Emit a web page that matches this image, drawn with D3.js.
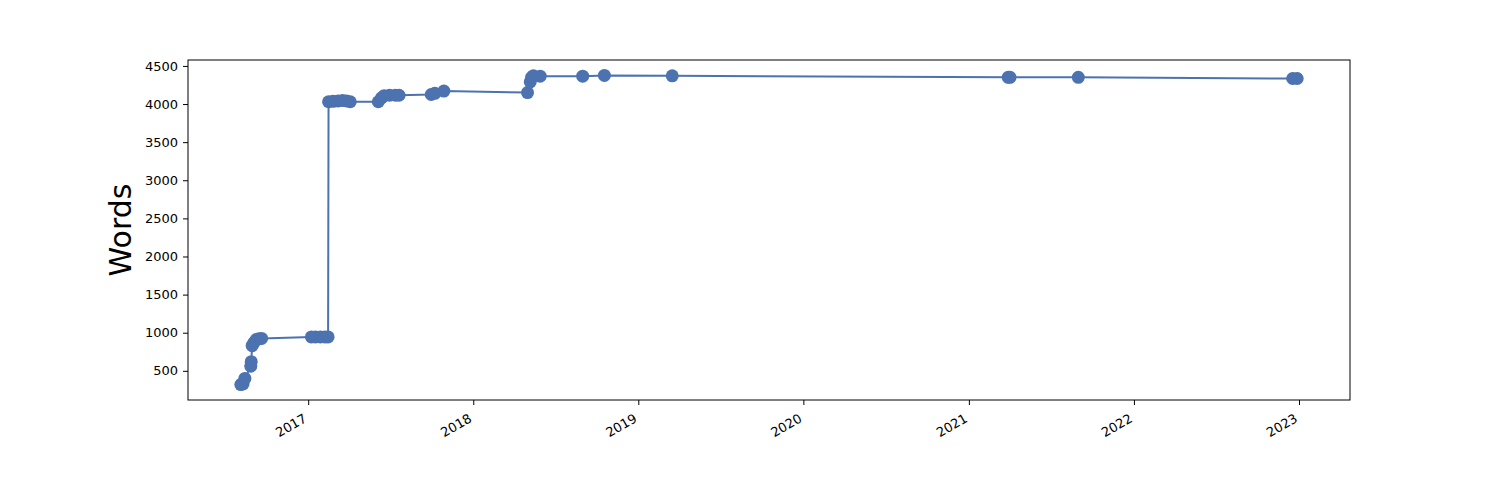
<!DOCTYPE html>
<html lang="en">
<head>
  <meta charset="UTF-8">
  <title>Words</title>
  <script src="https://cdn.jsdelivr.net/npm/d3@7/dist/d3.min.js"></script>
  <style>
    body { margin: 0; background: #fff; }
    text { font-family: "DejaVu Sans", sans-serif; }
  </style>
</head>
<body>
  <svg width="1500" height="500" id="main"></svg>
<script>
  // dates of each revision and the word count at that date
  const dates = [
    '2016-08-05', '2016-08-10', '2016-08-14', '2016-08-27', '2016-08-28',
    '2016-08-30', '2016-09-03', '2016-09-08', '2016-09-14', '2016-09-20',
    '2017-01-08', '2017-01-17', '2017-01-28', '2017-02-07', '2017-02-14',
    '2017-02-15', '2017-02-25', '2017-03-08', '2017-03-18', '2017-03-27',
    '2017-04-04', '2017-06-05', '2017-06-12', '2017-06-18', '2017-06-30',
    '2017-07-13', '2017-07-21', '2017-09-30', '2017-10-08', '2017-10-28',
    '2018-05-01', '2018-05-07', '2018-05-10', '2018-05-14', '2018-05-29',
    '2018-08-31', '2018-10-18', '2019-03-17', '2021-03-29', '2021-04-02',
    '2021-08-31', '2022-12-18', '2022-12-28'
  ];
  const words = [
    320, 330, 400, 560, 620,
    830, 870, 910, 920, 925,
    945, 945, 945, 945, 945,
    4030, 4035, 4040, 4045, 4040,
    4030, 4030, 4080, 4110, 4115,
    4115, 4115, 4125, 4140, 4170,
    4150, 4290, 4350, 4370, 4365,
    4365, 4375, 4370, 4350, 4350,
    4350, 4335, 4335
  ];
  const yTicks = [500, 1000, 1500, 2000, 2500, 3000, 3500, 4000, 4500];
  const xTickYears = [2017, 2018, 2019, 2020, 2021, 2022, 2023];
  const yLabel = 'Words';

  const svg = d3.select('#main');
  const m = { left: 188, right: 1350, top: 60, bottom: 400 };
  const color = '#4c72b0';

  const parse = d3.timeParse('%Y-%m-%d');
  const data = dates.map((d, i) => ({ date: parse(d), value: words[i] }));

  // matplotlib style 5% margins
  const [x0, x1] = d3.extent(data, d => +d.date);
  const xPad = (x1 - x0) * 0.05;
  const [y0, y1] = d3.extent(data, d => d.value);
  const yPad = (y1 - y0) * 0.05;

  const x = d3.scaleTime()
    .domain([new Date(x0 - xPad), new Date(x1 + xPad)])
    .range([m.left, m.right]);
  const y = d3.scaleLinear()
    .domain([y0 - yPad, y1 + yPad])
    .range([m.bottom, m.top]);

  // axes
  const xAxis = svg.append('g')
    .attr('transform', `translate(0,${m.bottom})`)
    .call(d3.axisBottom(x)
      .tickValues(xTickYears.map(yr => new Date(yr, 0, 1)))
      .tickFormat(d3.timeFormat('%Y'))
      .tickSize(5).tickPadding(3));
  xAxis.select('.domain').remove();
  xAxis.selectAll('line').attr('stroke', '#000').attr('stroke-width', 1);
  xAxis.selectAll('text')
    .attr('font-size', 13)
    .attr('fill', '#000')
    .style('text-anchor', 'end')
    .attr('y', 0).attr('dy', 0)
    .attr('transform', 'translate(-1,21) rotate(-30)');

  const yAxis = svg.append('g')
    .attr('transform', `translate(${m.left},0)`)
    .call(d3.axisLeft(y).tickValues(yTicks).tickFormat(d3.format('d'))
      .tickSize(5).tickPadding(5));
  yAxis.select('.domain').remove();
  yAxis.selectAll('line').attr('stroke', '#000').attr('stroke-width', 1);
  yAxis.selectAll('text').attr('font-size', 13).attr('fill', '#000');

  // line + markers
  const line = d3.line().x(d => x(d.date)).y(d => y(d.value));
  svg.append('path')
    .datum(data)
    .attr('d', line)
    .attr('fill', 'none')
    .attr('stroke', color)
    .attr('stroke-width', 2);

  svg.append('g')
    .selectAll('circle')
    .data(data)
    .enter()
    .append('circle')
    .attr('cx', d => x(d.date))
    .attr('cy', d => y(d.value))
    .attr('r', 6.5)
    .attr('fill', color);

  // frame
  svg.append('rect')
    .attr('x', m.left).attr('y', m.top)
    .attr('width', m.right - m.left).attr('height', m.bottom - m.top)
    .attr('fill', 'none').attr('stroke', '#000').attr('stroke-width', 1);

  svg.append('text')
    .attr('transform', `translate(131,${(m.top + m.bottom) / 2}) rotate(-90)`)
    .attr('text-anchor', 'middle')
    .attr('font-size', 30)
    .text(yLabel);
</script>
</body>
</html>
